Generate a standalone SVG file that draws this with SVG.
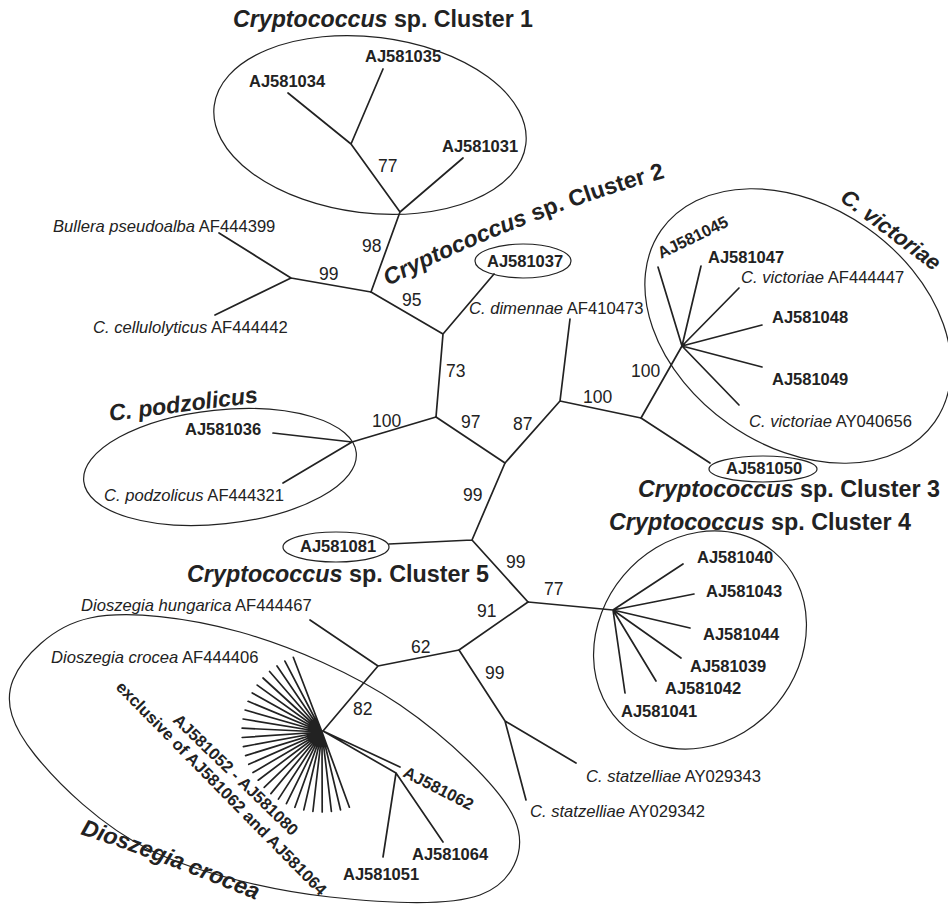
<svg xmlns="http://www.w3.org/2000/svg" xmlns:xlink="http://www.w3.org/1999/xlink" width="948" height="907" viewBox="0 0 948 907">
<style>
.e{fill:none;stroke:#222;stroke-width:1.2}
.c{fill:none;stroke:#222;stroke-width:1.7;stroke-linecap:round}
text{font-family:"Liberation Sans",Arial,Helvetica,sans-serif;fill:#222}
.b{font-size:16.5px;font-weight:bold}
.r{font-size:16.6px}
.n{font-size:17.5px}
.h{font-size:23px;font-weight:bold}
.i{font-style:italic}
</style>
<defs>
<path id="p2" d="M388,286 Q529,215 672,176" fill="none"/>
<path id="pd" d="M80,834 Q165,862 256,900" fill="none"/>
</defs>
<rect width="948" height="907" fill="#fff"/>

<g id="connectors" class="c">
<path d="M288,93 L351,144 M383,69 L351,144 M351,144 L400,212 M463,158 L400,212 M400,212 L371,292"/>
<path d="M219,233 L291,278 M215,315 L291,278 M291,278 L371,292"/>
<path d="M371,292 L443,334 M443,334 L494,274 M443,334 L436,417"/>
<path d="M436,417 L352,442 M352,442 L273,433 M352,442 L283,483"/>
<path d="M436,417 L505,463 M505,463 L560,401 M560,401 L570,319 M560,401 L641,418"/>
<path d="M641,418 L682,346 M641,418 L710,463"/>
<path d="M682,346 L658,267 M682,346 L701,266 M682,346 L739,288 M682,346 L762,325 M682,346 L762,367 M682,346 L739,405"/>
<path d="M505,463 L472,540 M472,540 L389,544 M472,540 L528,602"/>
<path d="M528,602 L613,610 M613,610 L683,564 M613,610 L694,594 M613,610 L690,628 M613,610 L681,658 M613,610 L656,681 M613,610 L625,693"/>
<path d="M528,602 L459,650 M459,650 L505,721 M505,721 L576,763 M505,721 L526,800"/>
<path d="M459,650 L378,666 M378,666 L310,620 M378,666 L323,731"/>
<path d="M323,731 L400,767 M323,731 L396,773 M396,773 L443,842 M396,773 L383,857"/>
<path d="M322,732 L349.4,807.2 M322,732 L340.5,809.8 M322,732 L331.4,811.4 M322,732 L322.2,812 M322,732 L312.9,811.5 M322,732 L303.8,809.9 M322,732 L294.9,807.3 M322,732 L286.4,803.6 M322,732 L278.4,799.1 M322,732 L270.9,793.6 M322,732 L264.2,787.3 M322,732 L258.2,780.2 M322,732 L253,772.5 M322,732 L248.8,764.3 M322,732 L245.6,755.6 M322,732 L243.4,746.6 M322,732 L242.2,737.5 M322,732 L242.1,728.2 M322,732 L243.1,719 M322,732 L245.1,710 M322,732 L248.1,701.3 M322,732 L252.2,692.9 M322,732 L257.2,685.1 M322,732 L263,678 M322,732 L269.6,671.5 M322,732 L277,665.9 M322,732 L284.9,661.1 M322,732 L293.3,657.3"/>
</g>

<g id="cluster1">
<ellipse class="e" cx="370" cy="125" rx="157" ry="88" transform="rotate(7 370 125)"/>
<text class="h" x="233" y="27" textLength="300" lengthAdjust="spacingAndGlyphs"><tspan class="i">Cryptococcus</tspan> sp. Cluster 1</text>
</g>
<g id="AJ581034"><text class="b" x="249" y="87">AJ581034</text></g>
<g id="AJ581035"><text class="b" x="365" y="62">AJ581035</text></g>
<g id="AJ581031"><text class="b" x="442" y="152">AJ581031</text></g>

<g id="cluster2">
<text class="h"><textPath xlink:href="#p2" href="#p2"><tspan class="i">Cryptococcus</tspan> sp. Cluster 2</textPath></text>
<ellipse class="e" cx="523" cy="261" rx="48" ry="17"/>
<text class="b" x="487" y="267">AJ581037</text>
</g>

<g id="bullera"><text class="r" x="53" y="232"><tspan class="i">Bullera pseudoalba</tspan> AF444399</text></g>
<g id="cellulolyticus"><text class="r" x="93" y="333"><tspan class="i">C. cellulolyticus</tspan> AF444442</text></g>
<g id="dimennae"><text class="r" x="469" y="314"><tspan class="i">C. dimennae</tspan> AF410473</text></g>

<g id="victoriae">
<ellipse class="e" cx="798" cy="326" rx="167" ry="120" transform="rotate(35 798 326)"/>
<text class="i" x="839" y="200" transform="rotate(37 839 200)" style="font-size:22px;font-weight:bold">C. victoriae</text>
<text class="b" x="661" y="259" transform="rotate(-26 661 259)">AJ581045</text>
<text class="b" x="708" y="263">AJ581047</text>
<text class="r" x="741" y="283"><tspan class="i">C. victoriae</tspan> AF444447</text>
<text class="b" x="772" y="323">AJ581048</text>
<text class="b" x="772" y="385">AJ581049</text>
<text class="r" x="749" y="427"><tspan class="i">C. victoriae</tspan> AY040656</text>
</g>

<g id="cluster3">
<ellipse class="e" cx="763" cy="469" rx="54" ry="13"/>
<text class="b" x="726" y="474">AJ581050</text>
<text class="h" x="638" y="497" textLength="302" lengthAdjust="spacingAndGlyphs"><tspan class="i">Cryptococcus</tspan> sp. Cluster 3</text>
</g>

<g id="podzolicus">
<ellipse class="e" cx="220" cy="467" rx="137" ry="57" transform="rotate(-6 220 467)"/>
<text class="h i" x="110" y="421" transform="rotate(-7.2 110 421)">C. podzolicus</text>
<text class="b" x="185" y="435">AJ581036</text>
<text class="r" x="104" y="501"><tspan class="i">C. podzolicus</tspan> AF444321</text>
</g>

<g id="cluster5">
<ellipse class="e" cx="336" cy="547" rx="53" ry="15"/>
<text class="b" x="300" y="552">AJ581081</text>
<text class="h" x="187" y="582" textLength="302" lengthAdjust="spacingAndGlyphs"><tspan class="i">Cryptococcus</tspan> sp. Cluster 5</text>
</g>

<g id="cluster4">
<ellipse class="e" cx="700" cy="640" rx="115" ry="100" transform="rotate(-50 700 640)"/>
<text class="h" x="609" y="530" textLength="302" lengthAdjust="spacingAndGlyphs"><tspan class="i">Cryptococcus</tspan> sp. Cluster 4</text>
<text class="b" x="697" y="563">AJ581040</text>
<text class="b" x="706" y="597">AJ581043</text>
<text class="b" x="703" y="640">AJ581044</text>
<text class="b" x="690" y="672">AJ581039</text>
<text class="b" x="665" y="694">AJ581042</text>
<text class="b" x="621" y="717">AJ581041</text>
</g>

<g id="statzelliae">
<text class="r" x="586" y="782"><tspan class="i">C. statzelliae</tspan> AY029343</text>
<text class="r" x="530" y="817"><tspan class="i">C. statzelliae</tspan> AY029342</text>
</g>

<g id="hungarica"><text class="r" x="81" y="611"><tspan class="i">Dioszegia hungarica</tspan> AF444467</text></g>

<g id="dioszegia">
<path class="e" d="M13,680 C22.2,657.2 52.2,626 90,618 C127.8,610 188.3,617.5 240,632 C291.7,646.5 354.2,673.7 400,705 C445.8,736.3 501.7,788 515,820 C528.3,852 510.8,883.8 480,895 C449.2,906 385,903 330,897 C275,891 199.2,874 150,850 C100.8,826 57.8,783.3 35,755 C12.2,726.7 3.8,702.8 13,680 Z"/>
<text class="r" x="51" y="663"><tspan class="i">Dioszegia crocea</tspan> AF444406</text>
<text class="b" x="172" y="721" transform="rotate(44 172 721)">AJ581052 - AJ581080</text>
<text class="b" x="115" y="688" transform="rotate(45.5 115 688)" textLength="292" lengthAdjust="spacingAndGlyphs">exclusive of AJ581062 and AJ581064</text>
<text class="b" x="402" y="776" transform="rotate(27 402 776)">AJ581062</text>
<text class="b" x="412" y="860">AJ581064</text>
<text class="b" x="343" y="880">AJ581051</text>
<text class="h i"><textPath xlink:href="#pd" href="#pd">Dioszegia crocea</textPath></text>
</g>

<g id="bootstrap" class="n">
<text class="n" x="378" y="172">77</text>
<text class="n" x="362" y="252">98</text>
<text class="n" x="319" y="280">99</text>
<text class="n" x="402" y="306">95</text>
<text class="n" x="446" y="377">73</text>
<text class="n" x="372" y="427">100</text>
<text class="n" x="461" y="428">97</text>
<text class="n" x="513" y="430">87</text>
<text class="n" x="583" y="403">100</text>
<text class="n" x="631" y="377">100</text>
<text class="n" x="463" y="501">99</text>
<text class="n" x="506" y="568">99</text>
<text class="n" x="544" y="595">77</text>
<text class="n" x="477" y="617">91</text>
<text class="n" x="411" y="653">62</text>
<text class="n" x="485" y="679">99</text>
<text class="n" x="353" y="715">82</text>
</g>
</svg>
